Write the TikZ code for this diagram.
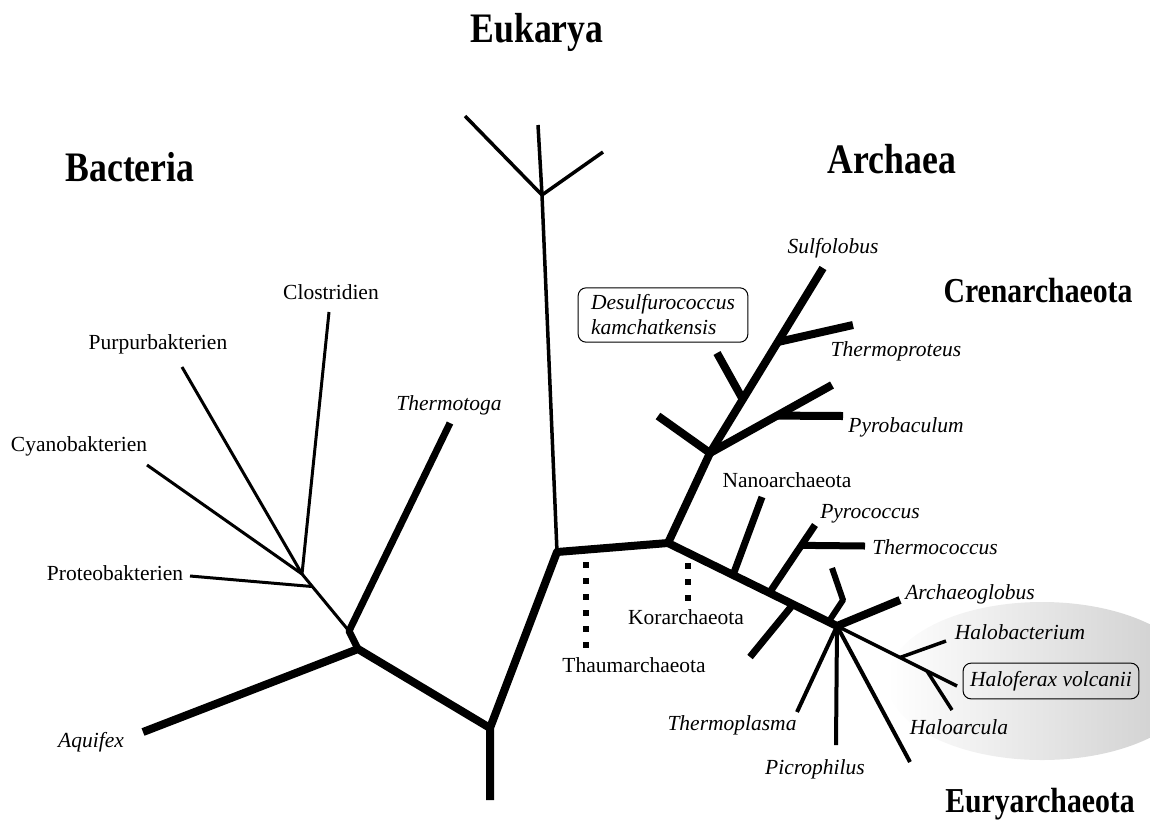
\documentclass[tikz,border=0pt]{standalone}
\usepackage{fontspec}
\setmainfont{Liberation Serif}
\newfontfamily\headfont[FakeStretch=0.85]{Liberation Serif}
\usetikzlibrary{calc}

\begin{document}
\begin{tikzpicture}[x=1pt,y=-1pt,line join=round,
  stem/.style={line width=8pt},
  branch/.style={line width=7pt},
  twig/.style={line width=4pt},
  halo/.style={line width=3.5pt},
  hair/.style={line width=3pt},
  dotline/.style={line width=6.5pt,dash pattern=on 6pt off 10pt},
  lbl/.style={inner sep=0pt,font=\fontsize{21.5}{25}\selectfont},
  sp/.style={inner sep=0pt,font=\fontsize{21.5}{25}\selectfont\itshape},
  boxed/.style={draw,line width=1pt,rounded corners=8pt},
  kingdom/.style={anchor=base,inner sep=0pt,font=\headfont\bfseries\fontsize{42}{46}\selectfont},
  phylum/.style={anchor=base,inner sep=0pt,font=\headfont\bfseries\fontsize{35}{40}\selectfont}]
  \useasboundingbox (0,0) rectangle (1150,820);
  \shade[left color=white,right color=black!20] (1042,681) ellipse [x radius=155pt,y radius=79pt];

  \coordinate (root) at (490,800);
  \coordinate (n1) at (490,728);
  \coordinate (bac) at (358,649);
  \coordinate (bac2) at (349,631);
  \coordinate (aqu) at (143,732);
  \coordinate (tmt) at (450,423);
  \coordinate (bj) at (302,574);
  \coordinate (prt) at (190,576);
  \coordinate (cya) at (147,465);
  \coordinate (pur) at (182,367);
  \coordinate (clo) at (329,312);
  \coordinate (prj) at ($(bj)!0.22!(bac2)$);
  \coordinate (n2) at (557,552);
  \coordinate (euj) at (542,195);
  \coordinate (eu1) at (465,116);
  \coordinate (eu2) at (538,125);
  \coordinate (eu3) at (603,152);
  \coordinate (arc) at (668,543);
  \coordinate (cre) at (710,453);
  \coordinate (sul) at (823,268);
  \coordinate (cr1) at (658,416);
  \coordinate (tpr) at (832,385);
  \coordinate (ctp) at ($(cre)!0.55!(tpr)$);
  \coordinate (pba) at (843,416);
  \coordinate (cds) at ($(cre)!0.29!(sul)$);
  \coordinate (dsk) at (717,353);
  \coordinate (cup) at ($(cre)!0.6!(sul)$);
  \coordinate (cr2) at (853,325);
  \coordinate (eur) at (837,626);
  \coordinate (ena) at ($(arc)!0.385!(eur)$);
  \coordinate (nan) at (762,497);
  \coordinate (epy) at ($(arc)!0.6!(eur)$);
  \coordinate (pyr) at (815,525);
  \coordinate (etc) at ($(epy)!0.7!(pyr)$);
  \coordinate (tcc) at (865,546);
  \coordinate (elo) at ($(arc)!0.74!(eur)$);
  \coordinate (ey1) at (750,657);
  \coordinate (ekk) at ($(arc)!0.95!(eur)$);
  \coordinate (ey2a) at (843,600);
  \coordinate (ey2b) at (832,568);
  \coordinate (agl) at (900,600);
  \coordinate (tpl) at (797,712);
  \coordinate (pic) at (836,745);
  \coordinate (ey3) at (910,762);
  \coordinate (hfx) at (957,686);
  \coordinate (ehb) at ($(eur)!0.525!(hfx)$);
  \coordinate (hbt) at (946,641);
  \coordinate (eha) at ($(eur)!0.75!(hfx)$);
  \coordinate (hac) at (952,710);
  \coordinate (th1) at (586,562);
  \coordinate (th2) at (586,648);
  \coordinate (ko1) at (688,563);
  \coordinate (ko2) at (688,601);

  \draw[stem] (root) -- (n1) -- (n2) -- (arc) -- (cre) -- (sul);
  \draw[stem] (n1) -- (bac) -- (aqu);
  \draw[branch] (bac) -- (bac2) -- (tmt);
  \draw[hair] (bac2) -- (bj) -- (cya);
  \foreach \t in {pur,clo}
    \draw[hair] (bj) -- (\t);
  \draw[hair] (prj) -- (prt);
  \draw[line width=3.5pt] (n2) -- (euj) -- (eu2);
  \draw[line width=3.5pt] (eu1) -- (euj) -- (eu3);

  \draw[stem] (cre) -- (cr1);
  \draw[stem] (cre) -- (tpr);
  \draw[stem] (ctp) -- (pba);
  \draw[stem] (cds) -- (dsk);
  \draw[stem] (cup) -- (cr2);

  \draw[stem] (arc) -- (eur) -- (agl);
  \draw[branch] (ena) -- (nan);
  \draw[branch] (epy) -- (pyr);
  \draw[branch] (etc) -- (tcc);
  \draw[branch] (elo) -- (ey1);
  \draw[line width=6pt] (ekk) -- (ey2a) -- (ey2b);
  \draw[twig] (eur) -- (tpl);
  \draw[twig] (eur) -- (pic);
  \draw[twig] (eur) -- (ey3);
  \draw[halo] (eur) -- (hfx);
  \draw[halo] (ehb) -- (hbt);
  \draw[halo] (eha) -- (hac);
  \draw[dotline] (th1) -- (th2);
  \draw[dotline] (ko1) -- (ko2);

  \node[kingdom] (eukarya) at (537,42) {Eukarya};
  \node[kingdom] (bacteria) at (130,181) {Bacteria};
  \node[kingdom] (archaea) at (892,173) {Archaea};
  \node[phylum] (crenarch) at (1038,302) {Crenarchaeota};
  \node[phylum] (euryarch) at (1040,812) {Euryarchaeota};

  \node[lbl] (clostr) at (331,292) {Clostridien};
  \node[lbl] (purpur) at (158,344) {Purpurbakterien};
  \node[lbl] (cyano) at (79,446) {Cyanobakterien};
  \node[lbl] (proteo) at (115,573) {Proteobakterien};
  \node[sp] (thermotoga) at (449,405) {Thermotoga};
  \node[sp] (aquifex) at (91,742) {Aquifex};
  \node[lbl] (thaum) at (634,665) {Thaumarchaeota};
  \node[lbl] (korarch) at (686,617) {Korarchaeota};
  \node[lbl] (nanoarch) at (787,480) {Nanoarchaeota};
  \node[sp] (sulfolobus) at (833,248) {Sulfolobus};
  \node[sp] (thermoprot) at (896,351) {Thermoproteus};
  \node[sp] (pyrobac) at (906,427) {Pyrobaculum};
  \node[sp,boxed,align=left,inner xsep=13pt,inner ysep=7pt] (desulfo) at (663,315)
    {Desulfurococcus\\kamchatkensis};
  \node[sp] (pyrococ) at (870,514) {Pyrococcus};
  \node[sp] (thermococ) at (935,547) {Thermococcus};
  \node[sp] (archglob) at (970,594) {Archaeoglobus};
  \node[sp] (halobact) at (1020,632) {Halobacterium};
  \node[sp,boxed,inner xsep=7pt,inner ysep=8pt] (haloferax) at (1051,681) {Haloferax volcanii};
  \node[sp] (haloarc) at (959,727) {Haloarcula};
  \node[sp] (thermopl) at (732,725) {Thermoplasma};
  \node[sp] (picroph) at (815,769) {Picrophilus};
\end{tikzpicture}
\end{document}
